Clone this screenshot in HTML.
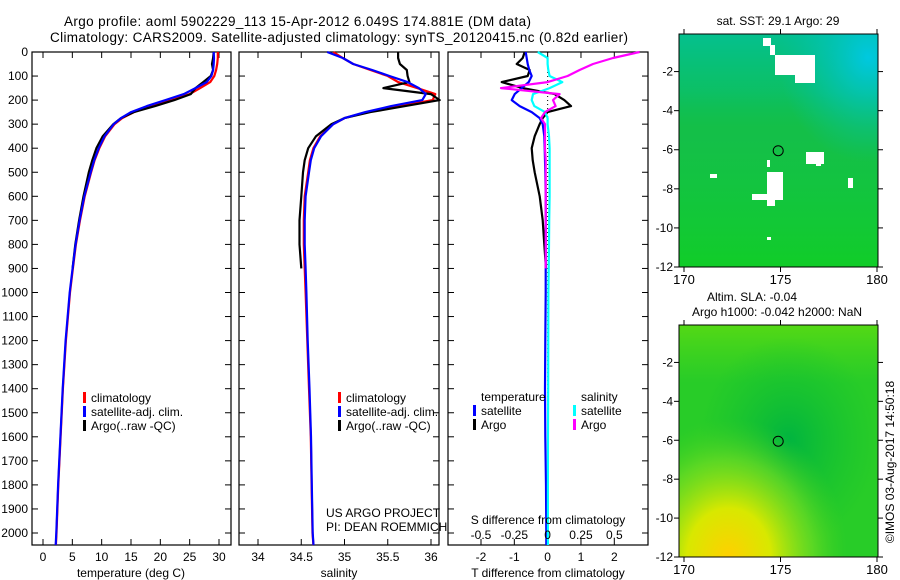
<!DOCTYPE html>
<html><head><meta charset="utf-8"><style>
html,body{margin:0;padding:0;background:#fff;}
svg{display:block;font-family:"Liberation Sans",sans-serif;}
text{font-size:12px;fill:#000;}
</style></head><body>
<svg id="c" width="900" height="580" xmlns="http://www.w3.org/2000/svg">
<defs>
<linearGradient id="sstTop" x1="0" y1="0" x2="0" y2="1"><stop offset="0" stop-color="#00c0a0" stop-opacity="0.8"/><stop offset="0.25" stop-color="#00c090" stop-opacity="0.4"/><stop offset="0.4" stop-color="#00c070" stop-opacity="0"/></linearGradient>
<radialGradient id="sstTR" cx="0.95" cy="0.1" r="0.45"><stop offset="0" stop-color="#00c8e0"/><stop offset="1" stop-color="#00c0b0" stop-opacity="0"/></radialGradient>
<linearGradient id="sstBot" x1="0" y1="0" x2="0" y2="1"><stop offset="0.45" stop-color="#10d030" stop-opacity="0"/><stop offset="1" stop-color="#10d020" stop-opacity="0.8"/></linearGradient>
<radialGradient id="slaY" cx="0.25" cy="1" r="0.6"><stop offset="0" stop-color="#ffd000"/><stop offset="0.35" stop-color="#d8e800"/><stop offset="0.7" stop-color="#80e020" stop-opacity="0.6"/><stop offset="1" stop-color="#40d020" stop-opacity="0"/></radialGradient>
<radialGradient id="slaC" cx="0.55" cy="0.5" r="0.45"><stop offset="0" stop-color="#00b440"/><stop offset="1" stop-color="#10c030" stop-opacity="0"/></radialGradient>
<linearGradient id="slaT" x1="0" y1="0" x2="0" y2="1"><stop offset="0" stop-color="#60dc10" stop-opacity="0.8"/><stop offset="0.25" stop-color="#50d818" stop-opacity="0"/></linearGradient>
</defs>
<g id="g"></g>
</svg>
<script>
// ---- data ----
const depths = [0,25,50,75,100,125,150,175,200,225,250,275,300,350,400,450,500,600,700,800,900,1000,1200,1400,1600,1800,2000,2050];
const tempClim = [29.8,29.8,29.7,29.5,29.2,28.5,26.8,25,22,18.5,15.5,13.5,12.2,10.6,9.6,8.8,8.2,7.1,6.3,5.6,5.1,4.6,3.9,3.4,3.0,2.6,2.3,2.2];
const tempSat = [29.1,29.15,29.1,29.0,28.7,27.9,26.0,24.0,20.9,17.7,15.0,13.3,12.05,10.5,9.5,8.72,8.13,7.04,6.24,5.55,5.05,4.55,3.85,3.36,2.96,2.57,2.27,2.17];
const tempArgo = [29.1,29.0,28.8,29.0,28.6,27.3,26.0,25.2,22.4,19.1,15.5,13.3,12.0,10.2,9.1,8.4,7.8,6.9,6.15,5.5,5.05];
const salClim = [34.87,34.98,35.1,35.3,35.5,35.62,35.84,36.05,36.02,35.64,35.26,35.0,34.87,34.72,34.64,34.6,34.58,34.54,34.53,34.53,34.54,34.55,34.57,34.59,34.61,34.62,34.63,34.64];
const salSat = [34.8,34.98,35.1,35.32,35.52,35.73,35.86,35.94,35.9,35.54,35.24,35.0,34.87,34.73,34.65,34.61,34.59,34.55,34.54,34.54,34.55,34.56,34.575,34.595,34.613,34.622,34.632,34.642];
const salArgo = [35.62,35.62,35.64,35.72,35.73,35.75,35.45,36.0,36.1,35.7,35.3,35.0,34.85,34.67,34.58,34.54,34.52,34.5,34.48,34.48,34.5];
const tDiffSat = [-0.66,-0.63,-0.6,-0.55,-0.48,-0.57,-0.78,-0.99,-1.08,-0.84,-0.48,-0.24,-0.15,-0.1,-0.09,-0.08,-0.07,-0.06,-0.06,-0.06,-0.06,-0.06,-0.07,-0.08,-0.07,-0.05,-0.04,-0.04];
const tDiffArgo = [-0.69,-0.75,-0.93,-0.54,-0.6,-1.38,-0.75,0.21,0.5,0.7,0.0,-0.15,-0.24,-0.39,-0.48,-0.45,-0.39,-0.24,-0.15,-0.1,-0.05];
const sDiffSat = [-0.075,0,0,0.005,0.015,0.11,0.015,-0.11,-0.12,-0.1,-0.02,0,0,0.01,0.015,0.015,0.015,0.015,0.012,0.01,0.008,0.006,0.005,0.004,0.003,0.002,0.002,0.002];
const sDiffArgo = [0.69,0.49,0.34,0.24,0.15,0.0,-0.35,0.09,0.04,0.06,-0.02,-0.05,-0.02,-0.02,-0.02,-0.015,-0.015,-0.015,-0.015,-0.015,-0.015];
const depthTicks = [0,100,200,300,400,500,600,700,800,900,1000,1100,1200,1300,1400,1500,1600,1700,1800,1900,2000];
const tempTicks = [0,5,10,15,20,25,30];
const salTicks = [34,34.5,35,35.5,36];
const tdTicks = [-2,-1,0,1,2];
const sdTicks = [-0.5,-0.25,0,0.25,0.5];
const sdTickLabels = ["-0.5","-0.25","0","0.25","0.5"];
const lonTicks = [170,175,180];
const latTicks = [-2,-4,-6,-8,-10,-12];
const argoLon = 174.881, argoLat = -6.049;

// ---- helpers ----
const NS="http://www.w3.org/2000/svg";
const G=document.getElementById('g');
function el(tag,attrs,parent){const e=document.createElementNS(NS,tag);for(const k in attrs)e.setAttribute(k,attrs[k]);(parent||G).appendChild(e);return e;}
function txt(x,y,s,anchor,parent){const t=el('text',{x:x,y:y,'text-anchor':anchor||'start'},parent);t.textContent=s;return t;}
const TOP=52,BOT=545;
const yD=d=>TOP+d*0.2405;
function lin(d0,d1,r0,r1){return v=>r0+(v-d0)*(r1-r0)/(d1-d0);}
const xT=lin(0,30,43,219);
const xS=lin(34,36,258,431);
const xTD=lin(-2,2,481,614.3);
const xSD=lin(-0.5,0.5,481,614.3);

function panel(x0,x1,name){
  const r=el('rect',{x:x0,y:TOP,width:x1-x0,height:BOT-TOP,fill:'none',stroke:'#000','stroke-width':1.2});
  
  
  depthTicks.forEach(d=>{el('line',{x1:x0,x2:x0+6,y1:yD(d),y2:yD(d),stroke:'#000'});el('line',{x1:x1-6,x2:x1,y1:yD(d),y2:yD(d),stroke:'#000'});});
}
function xticks(vals,fx,x0,x1,labels,ly){
  vals.forEach((v,i)=>{const x=fx(v);
    el('line',{x1:x,x2:x,y1:TOP,y2:TOP+6,stroke:'#000'});el('line',{x1:x,x2:x,y1:BOT-6,y2:BOT,stroke:'#000'});
    if(labels){const t=txt(x,ly,labels[i],'middle');}
  });
}
function line(vals,fx,color,w,name){
  let d='';vals.forEach((v,i)=>{d+=(i?'L':'M')+fx(v).toFixed(1)+','+yD(depths[i]).toFixed(1);});
  const p=el('path',{d:d,fill:'none',stroke:color,'stroke-width':w,'stroke-linejoin':'round'});
  
  
}
function legendItem(x,y,color,label){
  el('rect',{x:x,y:y-10,width:3,height:11,fill:color});
  const t=txt(x+8,y,label);
  
  
}

// ---- titles ----
let t=txt(64,26,'Argo profile: aoml 5902229_113 15-Apr-2012 6.049S 174.881E (DM data)');t.style.fontSize='13.5px';
t.setAttribute('textLength','467');


t=txt(50,42,'Climatology: CARS2009. Satellite-adjusted climatology: synTS_20120415.nc (0.82d earlier)');t.style.fontSize='13.5px';
t.setAttribute('textLength','578');



// ---- panel 1 temperature ----
panel(32,231,'temperature-panel');
depthTicks.forEach(d=>{const t=txt(28,yD(d)+4,String(d),'end');});
xticks(tempTicks,xT,32,231,tempTicks.map(String),561);
t=txt(131,577,'temperature (deg C)','middle');


line(tempClim,xT,'#f00',2.2,'temp-climatology-line');
line(tempArgo,xT,'#000',2.2,'temp-argo-line');
line(tempSat,xT,'#00f',2.2,'temp-satellite-line');
legendItem(83,402,'#f00','climatology');
legendItem(83,416,'#00f','satellite-adj. clim.');
legendItem(83,430,'#000','Argo(..raw -QC)');

// ---- panel 2 salinity ----
panel(239,439,'salinity-panel');
xticks(salTicks,xS,239,439,salTicks.map(String),561);
t=txt(339,577,'salinity','middle');


line(salClim,xS,'#f00',2.2,'sal-climatology-line');
line(salArgo,xS,'#000',2.2,'sal-argo-line');
line(salSat,xS,'#00f',2.2,'sal-satellite-line');
legendItem(338,402,'#f00','climatology');
legendItem(338,416,'#00f','satellite-adj. clim.');
legendItem(338,430,'#000','Argo(..raw -QC)');
t=txt(326,517,'US ARGO PROJECT');
t=txt(326,531,'PI: DEAN ROEMMICH');

// ---- panel 3 differences ----
panel(448,648,'difference-panel');
xticks(tdTicks,xTD,448,648,tdTicks.map(String),561);
el('line',{x1:xTD(0),x2:xTD(0),y1:TOP,y2:BOT,stroke:'#000','stroke-dasharray':'1,3'});
t=txt(548,577,'T difference from climatology','middle');


line(tDiffArgo,xTD,'#000',2.2,'tdiff-argo-line');
line(tDiffSat,xTD,'#00f',2.2,'tdiff-satellite-line');
line(sDiffSat,xSD,'#0ff',2.2,'sdiff-satellite-line');
line(sDiffArgo,xSD,'#f0f',2.2,'sdiff-argo-line');
t=txt(548,524,'S difference from climatology','middle');


sdTicks.forEach((v,i)=>{const t=txt(xSD(v),539,sdTickLabels[i],'middle');});
t=txt(481,401,'temperature');
t=txt(581,401,'salinity');
legendItem(473,415,'#00f','satellite');
legendItem(473,429,'#000','Argo');
legendItem(573,415,'#0ff','satellite');
legendItem(573,429,'#f0f','Argo');

// ---- maps ----
function map(y0,y1,kind,name){
  const x0=679,x1=878;
  const fx=lin(170,180,684,877), fy=lin(-2,-12,y0+(y1-y0)*0.1613,y1);
  const g=el('g',{});
  
  
  if(kind==='sst'){
    el('rect',{x:x0,y:y0,width:x1-x0,height:y1-y0,fill:'#14bf48'},g);
    el('rect',{x:x0,y:y0,width:x1-x0,height:y1-y0,fill:'url(#sstTop)'},g);
    el('rect',{x:x0,y:y0,width:x1-x0,height:y1-y0,fill:'url(#sstTR)'},g);
    el('rect',{x:x0,y:y0,width:x1-x0,height:y1-y0,fill:'url(#sstBot)'},g);
    [[763,38,8,8],[770,45,5,10],[775,55,40,20],[795,72,20,11],[806,152,18,12],[816,160,5,6],[767,172,16,28],[752,194,20,6],[767,200,8,6],[767,191,8,10],[767,160,3,7],[710,174,7,4],[848,178,5,10],[767,237,4,3]].forEach(r=>el('rect',{x:r[0],y:r[1],width:r[2],height:r[3],fill:'#fff'},g));
  } else {
    el('rect',{x:x0,y:y0,width:x1-x0,height:y1-y0,fill:'#28cc28'},g);
    el('rect',{x:x0,y:y0,width:x1-x0,height:y1-y0,fill:'url(#slaT)'},g);
    el('rect',{x:x0,y:y0,width:x1-x0,height:y1-y0,fill:'url(#slaC)'},g);
    el('rect',{x:x0,y:y0,width:x1-x0,height:y1-y0,fill:'url(#slaY)'},g);
  }
  el('rect',{x:x0,y:y0,width:x1-x0,height:y1-y0,fill:'none',stroke:'#000'},g);
  lonTicks.forEach(v=>{el('line',{x1:fx(v),x2:fx(v),y1:y0-5,y2:y0,stroke:'#000'},g);el('line',{x1:fx(v),x2:fx(v),y1:y1,y2:y1+5,stroke:'#000'},g);const t=txt(fx(v),y1+17,String(v),'middle',g);t.style.fontSize='13px';});
  latTicks.forEach(v=>{el('line',{x1:x0-5,x2:x0,y1:fy(v),y2:fy(v),stroke:'#000'},g);el('line',{x1:x1,x2:x1+5,y1:fy(v),y2:fy(v),stroke:'#000'},g);const t=txt(x0-6,fy(v)+4,String(v),'end',g);t.style.fontSize='12px';});
  const c=el('circle',{cx:fx(argoLon),cy:fy(argoLat),r:5,fill:'none',stroke:'#000'},g);
  
  
}
map(34,267,'sst','sst-map');
map(325,557,'sla','sla-map');
t=txt(778,25,'sat. SST: 29.1 Argo: 29','middle');
t=txt(752,301,'Altim. SLA: -0.04','middle');
t=txt(777,316,'Argo h1000: -0.042 h2000: NaN','middle');
t=txt(0,0,'©IMOS 03-Aug-2017 14:50:18','middle');t.setAttribute('transform','translate(894,462) rotate(-90)');


</script>
</body></html>
